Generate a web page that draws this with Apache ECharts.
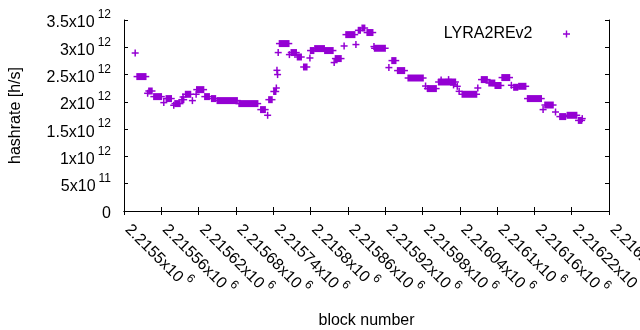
<!DOCTYPE html>
<html>
<head>
<meta charset="utf-8">
<script src="https://cdn.jsdelivr.net/npm/echarts@6/dist/echarts.min.js"></script>
<style>
html, body { margin: 0; padding: 0; background: #fff; }
#chart { width: 640px; height: 330px; }
</style>
</head>
<body>
<div id="chart"></div>
<script>
// runs of blocks sharing (roughly) one hashrate value
// a single point has start == end
var blockStart = [
    2215518, 2215521, 2215538, 2215540, 2215548, 2215564, 2215568, 2215580, 2215582, 2215593,
    2215595, 2215599, 2215610, 2215616, 2215617, 2215630, 2215641, 2215650, 2215685, 2215720,
    2215731, 2215733, 2215741, 2215745, 2215746, 2215747, 2215748, 2215750, 2215766, 2215769,
    2215779, 2215789, 2215799, 2215800, 2215807, 2215823, 2215838, 2215840, 2215854, 2215857,
    2215873, 2215877, 2215883, 2215891, 2215902, 2215903, 2215926, 2215931, 2215940, 2215957,
    2215985, 2215988, 2216006, 2216010, 2216022, 2216030, 2216036, 2216039, 2216044, 2216069,
    2216075, 2216087, 2216097, 2216108, 2216123, 2216127, 2216135, 2216149, 2216174, 2216177,
    2216194, 2216201, 2216213, 2216231, 2216237
];
var blockEnd = [
    2215518, 2215535, 2215538, 2215545, 2215560, 2215564, 2215576, 2215580, 2215590, 2215596,
    2215595, 2215607, 2215610, 2215616, 2215628, 2215637, 2215647, 2215682, 2215715, 2215727,
    2215731, 2215738, 2215744, 2215745, 2215746, 2215747, 2215748, 2215765, 2215766, 2215777,
    2215785, 2215794, 2215799, 2215805, 2215822, 2215836, 2215838, 2215849, 2215854, 2215871,
    2215873, 2215880, 2215887, 2215900, 2215902, 2215920, 2215926, 2215937, 2215951, 2215981,
    2215985, 2216002, 2216033, 2216010, 2216022, 2216030, 2216036, 2216039, 2216067, 2216069,
    2216084, 2216096, 2216106, 2216120, 2216123, 2216133, 2216146, 2216171, 2216174, 2216190,
    2216194, 2216210, 2216228, 2216236, 2216237
];
// hashrate in units of 10^12 h/s
var hashrate = [
    2.895, 2.463, 2.157, 2.199, 2.096, 1.986, 2.060, 1.937, 1.968, 2.040,
    2.089, 2.139, 2.023, 2.139, 2.224, 2.096, 2.060, 2.023, 1.968, 1.858,
    1.754, 2.040, 2.190, 2.254, 2.578, 2.500, 2.903, 3.068, 2.866, 2.903,
    2.822, 2.639, 2.804, 2.940, 2.976, 2.940, 2.720, 2.793, 3.024, 3.232,
    3.050, 3.311, 3.353, 3.270, 3.013, 2.982, 2.628, 2.756, 2.573, 2.437,
    2.290, 2.243, 2.364, 2.400, 2.408, 2.310, 2.285, 2.193, 2.139, 2.254,
    2.408, 2.345, 2.300, 2.445, 2.304, 2.267, 2.285, 2.060, 1.858, 1.942,
    1.814, 1.730, 1.754, 1.660, 1.693
];

var xTickLabels = ['2.2155', '2.21556', '2.21562', '2.21568', '2.21574', '2.2158', '2.21586',
    '2.21592', '2.21598', '2.21604', '2.2161', '2.21616', '2.21622', '2.21628'];
var yTickLabels = [['0', ''], ['5x10', '11'], ['1x10', '12'], ['1.5x10', '12'], ['2x10', '12'],
    ['2.5x10', '12'], ['3x10', '12'], ['3.5x10', '12']];

var xMin = 2215500, xMax = 2216280, xStep = 60;
var yStep = 5e11;
var purple = '#9400d3';
var font = 'Liberation Sans, Arial, sans-serif';

var runs = [];
for (var i = 0; i < blockStart.length; i++) {
    runs.push([blockStart[i], blockEnd[i], hashrate[i] * 1e12]);
}

var plusIcon = 'path://M3,0H4.5V3H7.5V4.5H4.5V7.5H3V4.5H0V3H3Z';

var richLabel = {
    a: { fontSize: 16, lineHeight: 22, verticalAlign: 'bottom', color: '#000', fontFamily: font },
    b: { fontSize: 12, lineHeight: 12, verticalAlign: 'top', color: '#000', fontFamily: font, padding: [0, 0, 0, 3] }
};

function supLabel(pair) {
    return pair[1] ? '{a|' + pair[0] + '}{b|' + pair[1] + '}' : '{a|' + pair[0] + '}';
}

var chart = echarts.init(document.getElementById('chart'));

var option = {
    animation: false,
    backgroundColor: '#fff',
    grid: { left: 124, right: 31, top: 20, bottom: 119, containLabel: false, outerBoundsMode: 'none' },
    legend: {
        data: [{ name: 'LYRA2REv2', icon: plusIcon }],
        right: 65,
        top: 21,
        align: 'right',
        itemWidth: 58,
        itemHeight: 7,
        symbolKeepAspect: true,
        textStyle: { fontSize: 16, color: '#000', fontFamily: font }
    },
    xAxis: [{
        type: 'value',
        min: xMin,
        max: xMax,
        interval: xStep,
        name: 'block number',
        nameLocation: 'middle',
        nameGap: 102,
        nameTextStyle: { fontSize: 16, color: '#000', fontFamily: font },
        axisLine: { lineStyle: { color: '#000', width: 1 } },
        axisTick: { inside: true, length: 4, lineStyle: { color: '#000' } },
        splitLine: { show: false },
        axisLabel: {
            rotate: -45,
            margin: 14,
            padding: [0, 0, 8, 4],
            showMaxLabel: true,
            formatter: function (v) {
                var k = Math.round((v - xMin) / xStep);
                return supLabel([xTickLabels[k] + 'x10', '6']);
            },
            rich: richLabel
        }
    }, {
        type: 'value',
        position: 'top',
        min: xMin,
        max: xMax,
        interval: xStep,
        axisLine: { lineStyle: { color: '#000', width: 1 } },
        axisTick: { inside: true, length: 4, lineStyle: { color: '#000' } },
        axisLabel: { show: false },
        splitLine: { show: false }
    }],
    yAxis: [{
        type: 'value',
        min: 0,
        max: 3.5e12,
        interval: yStep,
        name: 'hashrate [h/s]',
        nameLocation: 'middle',
        nameGap: 100,
        nameTextStyle: { fontSize: 16, color: '#000', fontFamily: font },
        axisLine: { show: true, lineStyle: { color: '#000', width: 1 } },
        axisTick: { show: true, inside: true, length: 4, lineStyle: { color: '#000' } },
        splitLine: { show: false },
        axisLabel: {
            margin: 13,
            formatter: function (v) {
                return supLabel(yTickLabels[Math.round(v / yStep)]);
            },
            rich: richLabel
        }
    }, {
        type: 'value',
        position: 'right',
        min: 0,
        max: 3.5e12,
        interval: yStep,
        axisLine: { show: true, lineStyle: { color: '#000', width: 1 } },
        axisTick: { show: true, inside: true, length: 4, lineStyle: { color: '#000' } },
        axisLabel: { show: false },
        splitLine: { show: false }
    }],
    series: [{
        name: 'LYRA2REv2',
        type: 'custom',
        clip: true,
        itemStyle: { color: purple },
        encode: { x: [0, 1], y: 2 },
        data: runs,
        renderItem: function (params, api) {
            var p1 = api.coord([api.value(0), api.value(2)]);
            var p2 = api.coord([api.value(1), api.value(2)]);
            var s = 3.5, w = 1.5;
            return {
                type: 'group',
                children: [{
                    type: 'rect',
                    shape: { x: p1[0] - w / 2, y: p1[1] - s, width: p2[0] - p1[0] + w, height: 2 * s },
                    style: { fill: purple }
                }, {
                    type: 'rect',
                    shape: { x: p1[0] - s, y: p1[1] - w / 2, width: p2[0] - p1[0] + 2 * s, height: w },
                    style: { fill: purple }
                }]
            };
        }
    }]
};

chart.setOption(option);
</script>
</body>
</html>
